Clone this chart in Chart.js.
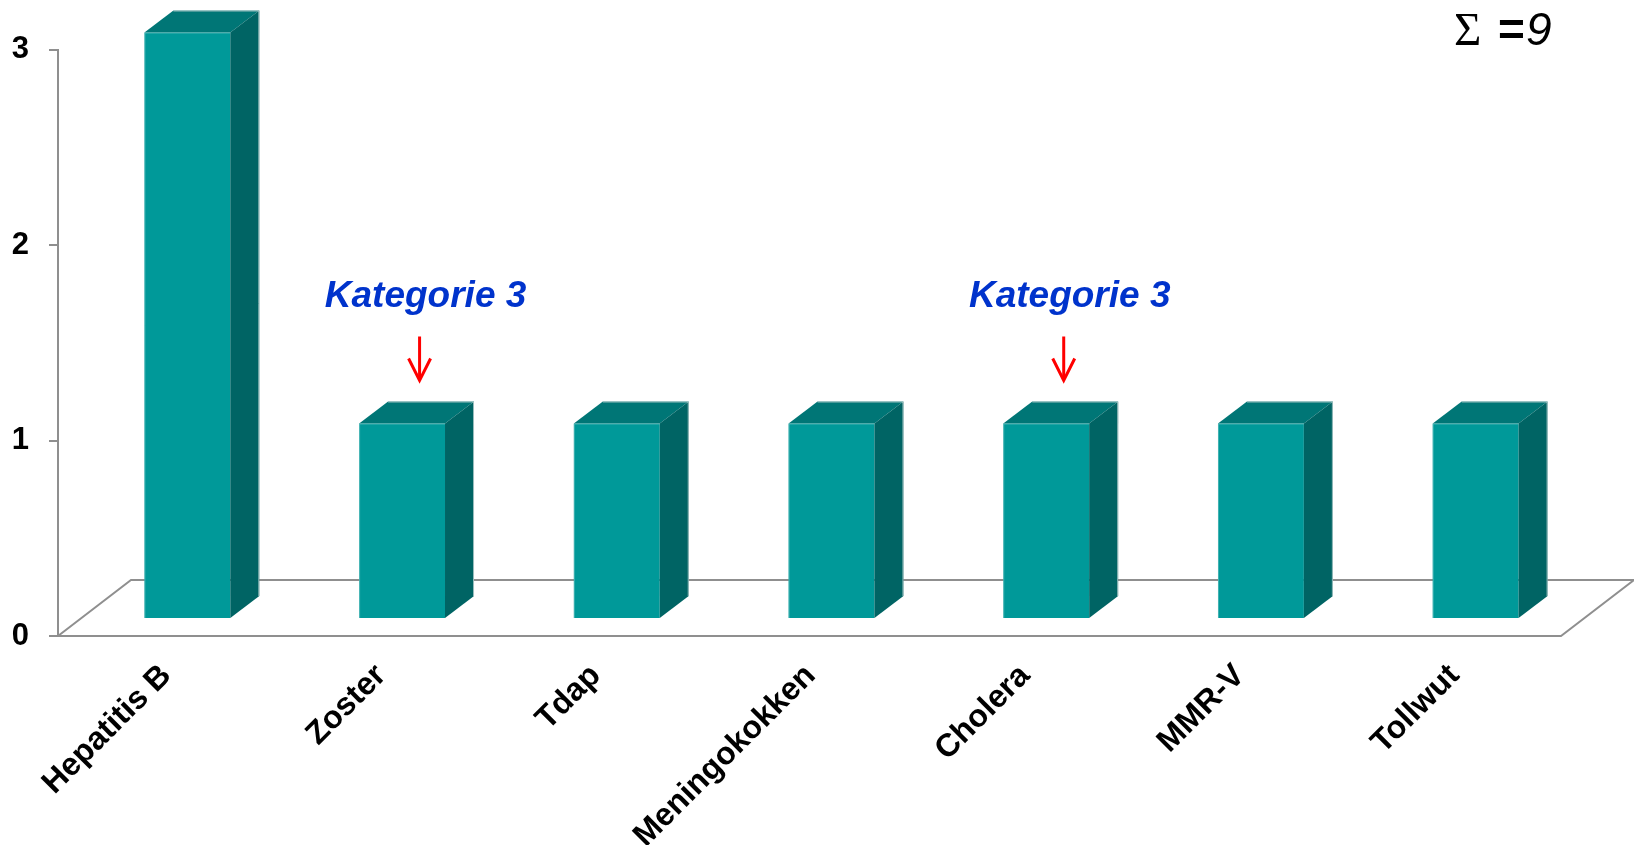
<!DOCTYPE html>
<html>
<head>
<meta charset="utf-8">
<title>Impfungen</title>
<script src="https://cdn.jsdelivr.net/npm/chart.js@4/dist/chart.umd.min.js"></script>
<style>
  html, body { margin: 0; padding: 0; background: #ffffff; }
  #wrap { position: relative; width: 1634px; height: 845px; }
</style>
</head>
<body>
<div id="wrap"><canvas id="chart"></canvas></div>
<script>
// Vaccines and number of cases per vaccine
const categories = ['Hepatitis B', 'Zoster', 'Tdap', 'Meningokokken', 'Cholera', 'MMR-V', 'Tollwut'];
const counts = [3, 1, 1, 1, 1, 1, 1];
const yTicks = [0, 1, 2, 3];

// Callouts pointing at single bars
const calloutText = 'Kategorie 3';
const calloutCategories = ['Zoster', 'Cholera'];

const total = counts.reduce((a, b) => a + b, 0);

const FONT = '"Liberation Sans", Arial, Helvetica, sans-serif';
const AXIS_GREY = '#8f8f8f';

// Pseudo-3D geometry: bars stand a little behind the front plane of the floor
const SHIFT = { x: 22, y: -17 };   // front plane -> bar front face
const DEPTH = { x: 29, y: -22 };   // bar depth
const FLOOR = { x: 73, y: -56 };   // floor depth

const FRONT = '#009999';
const TOP = '#007676';
const SIDE = '#006464';

function poly(ctx, pts) {
  ctx.beginPath();
  ctx.moveTo(pts[0][0], pts[0][1]);
  for (let i = 1; i < pts.length; i++) ctx.lineTo(pts[i][0], pts[i][1]);
  ctx.closePath();
}

const box3d = {
  id: 'box3d',
  beforeDatasetsDraw(chart) {
    const ctx = chart.ctx;
    const a = chart.chartArea;
    // floor outline
    ctx.save();
    ctx.strokeStyle = AXIS_GREY;
    ctx.lineWidth = 2;
    ctx.beginPath();
    ctx.moveTo(a.left, a.bottom);
    ctx.lineTo(a.left + FLOOR.x, a.bottom + FLOOR.y);
    ctx.lineTo(a.right + FLOOR.x, a.bottom + FLOOR.y);
    ctx.lineTo(a.right, a.bottom);
    ctx.closePath();
    ctx.stroke();
    ctx.restore();
    // bars are drawn in the shifted plane
    ctx.save();
    ctx.translate(SHIFT.x, SHIFT.y);
  },
  afterDatasetsDraw(chart) {
    const ctx = chart.ctx;
    const meta = chart.getDatasetMeta(0);
    meta.data.forEach(bar => {
      const p = bar.getProps(['x', 'y', 'base', 'width'], true);
      const l = p.x - p.width / 2, r = p.x + p.width / 2;
      const t = Math.min(p.y, p.base), b = Math.max(p.y, p.base);
      // top face
      ctx.fillStyle = TOP;
      poly(ctx, [[l, t], [r, t], [r + DEPTH.x, t + DEPTH.y], [l + DEPTH.x, t + DEPTH.y]]);
      ctx.fill();
      // side face
      ctx.fillStyle = SIDE;
      poly(ctx, [[r, t], [r + DEPTH.x, t + DEPTH.y], [r + DEPTH.x, b + DEPTH.y], [r, b]]);
      ctx.fill();
      // soft highlight edges
      ctx.lineWidth = 1;
      ctx.strokeStyle = 'rgba(120,200,200,0.55)';
      ctx.beginPath();
      ctx.moveTo(l + 0.5, b);
      ctx.lineTo(l + 0.5, t + 0.5);
      ctx.lineTo(r, t + 0.5);
      ctx.stroke();
      ctx.strokeStyle = 'rgba(190,210,210,0.8)';
      ctx.beginPath();
      ctx.moveTo(l + DEPTH.x, t + DEPTH.y + 0.5);
      ctx.lineTo(r + DEPTH.x - 0.5, t + DEPTH.y + 0.5);
      ctx.lineTo(r + DEPTH.x - 0.5, b + DEPTH.y);
      ctx.stroke();
    });
    ctx.restore();
  },
  afterDraw(chart) {
    const ctx = chart.ctx;
    const meta = chart.getDatasetMeta(0);
    ctx.save();
    // callouts with arrows
    calloutCategories.forEach(name => {
      const i = categories.indexOf(name);
      if (i < 0) return;
      const bar = meta.data[i];
      const cx = bar.x + SHIFT.x + DEPTH.x / 2 + 3;
      const tip = bar.y + SHIFT.y + DEPTH.y - 21;
      ctx.strokeStyle = '#ff0000';
      ctx.lineWidth = 3;
      ctx.lineCap = 'butt';
      ctx.lineJoin = 'miter';
      ctx.beginPath();
      ctx.moveTo(cx, tip - 44);
      ctx.lineTo(cx, tip - 2);
      ctx.stroke();
      ctx.beginPath();
      ctx.moveTo(cx - 11, tip - 22);
      ctx.lineTo(cx, tip);
      ctx.lineTo(cx + 11, tip - 22);
      ctx.stroke();
      ctx.fillStyle = '#0033cc';
      ctx.font = 'italic bold 37px ' + FONT;
      ctx.textAlign = 'center';
      ctx.textBaseline = 'alphabetic';
      ctx.fillText(calloutText, cx + 6, tip - 74);
    });
    // sum in the top right corner
    ctx.fillStyle = '#000000';
    ctx.textAlign = 'left';
    ctx.textBaseline = 'alphabetic';
    ctx.font = '47px "Liberation Serif", "Times New Roman", serif';
    ctx.fillText('\u03A3', 1454, 44.5);
    ctx.font = 'bold 46px ' + FONT;
    ctx.fillText('=', 1498, 44.5);
    ctx.font = 'italic 46px ' + FONT;
    ctx.fillText(String(total), 1526, 44.5);
    ctx.restore();
  }
};

new Chart(document.getElementById('chart'), {
  type: 'bar',
  data: {
    labels: categories,
    datasets: [{
      data: counts,
      backgroundColor: FRONT,
      borderWidth: 0,
      barPercentage: 0.4,
      categoryPercentage: 1.0,
      clip: false
    }]
  },
  options: {
    responsive: true,
    maintainAspectRatio: false,
    animation: false,
    events: [],
    layout: { padding: { top: 49.5, right: 73, bottom: 0, left: 0 } },
    plugins: {
      legend: { display: false },
      tooltip: { enabled: false },
      title: { display: false }
    },
    scales: {
      x: {
        grid: { display: false, drawTicks: false },
        border: { display: false },
        ticks: {
          color: '#000000',
          font: { family: FONT, size: 32, weight: 'bold' },
          minRotation: 45,
          maxRotation: 45,
          autoSkip: false,
          padding: 21,
          labelOffset: 1
        },
        afterFit(scale) { scale.height = 209; }
      },
      y: {
        min: 0,
        max: 3,
        afterBuildTicks(scale) { scale.ticks = yTicks.map(v => ({ value: v })); },
        grid: {
          drawOnChartArea: false,
          drawTicks: true,
          tickLength: 9,
          color: AXIS_GREY,
          lineWidth: 2
        },
        border: { display: true, color: AXIS_GREY, width: 2 },
        ticks: {
          color: '#000000',
          font: { family: FONT, size: 31, weight: 'bold' },
          padding: 20
        },
        afterFit(scale) { scale.width = 58; }
      }
    }
  },
  plugins: [box3d]
});
</script>
</body>
</html>
